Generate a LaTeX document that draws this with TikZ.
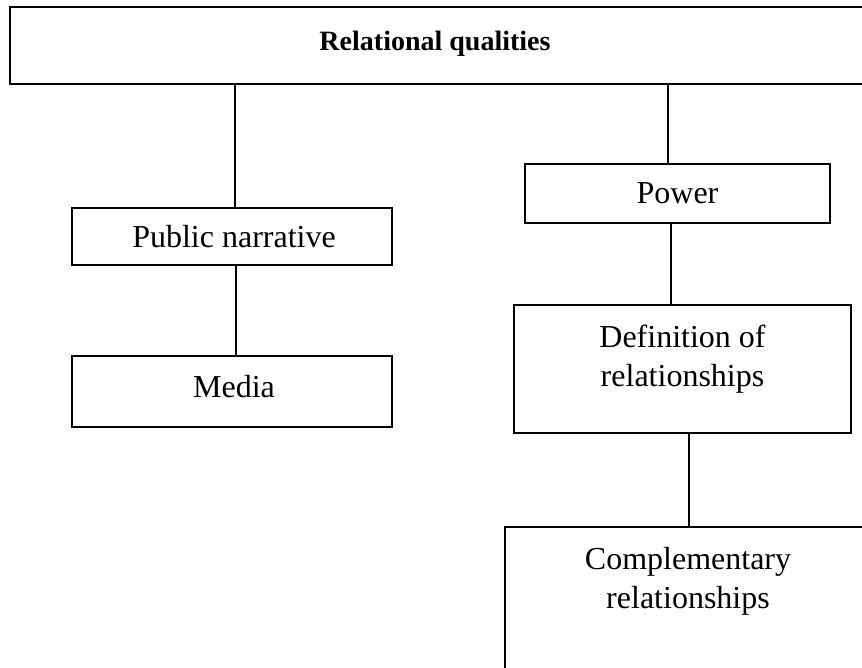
\documentclass[tikz,border=0pt]{standalone}
\usepackage{fontspec}
\setmainfont{Liberation Serif}
\begin{document}
\begin{tikzpicture}[x=1pt,y=1pt,
  box/.style={draw=black, line width=1.3pt, rectangle, inner sep=0pt, outer sep=0pt},
  lbl/.style={font=\fontsize{32}{39}\selectfont, align=center, inner sep=0pt},
  conn/.style={draw=black, line width=1.3pt}]
\fill[white] (0,0) rectangle (862,668);
\clip (0,0) rectangle (862,668);
% top box (right edge beyond frame)
\node[box, minimum width=861pt, minimum height=77pt] (top) at (440.5,622.5) {};
\node[lbl, font=\fontsize{28}{34}\selectfont\bfseries] (title) at (435,624) {Relational qualities};
% left column
\node[box, minimum width=320pt, minimum height=57pt] (pn) at (232,431.5) {};
\node[lbl] (pntext) at (234,431) {Public narrative};
\node[box, minimum width=320pt, minimum height=71pt] (media) at (232,276.5) {};
\node[lbl] (mediatext) at (234,281) {Media};
% right column
\node[box, minimum width=305pt, minimum height=59pt] (power) at (677.5,474.5) {};
\node[lbl] (powertext) at (677.5,475) {Power};
\node[box, minimum width=337pt, minimum height=128pt] (def) at (682.5,299) {};
\node[lbl] (deftext) at (682.5,309) {Definition of\\relationships};
\node[box, minimum width=366pt, minimum height=170pt] (comp) at (688,56) {};
\node[lbl] (comptext) at (688,87) {Complementary\\relationships};
% connectors
\draw[conn] ([xshift=3pt]pn.north) -- ([xshift=3pt]pn.north |- top.south);
\draw[conn] ([xshift=4pt]media.north) -- ([xshift=4pt]pn.south);
\draw[conn] ([xshift=-9.5pt]power.north) -- ([xshift=-9.5pt]power.north |- top.south);
\draw[conn] ([xshift=-6.5pt]power.south) -- ([xshift=-6.5pt]power.south |- def.north);
\draw[conn] ([xshift=6.5pt]def.south) -- ([xshift=6.5pt]def.south |- comp.north);
\end{tikzpicture}
\end{document}
